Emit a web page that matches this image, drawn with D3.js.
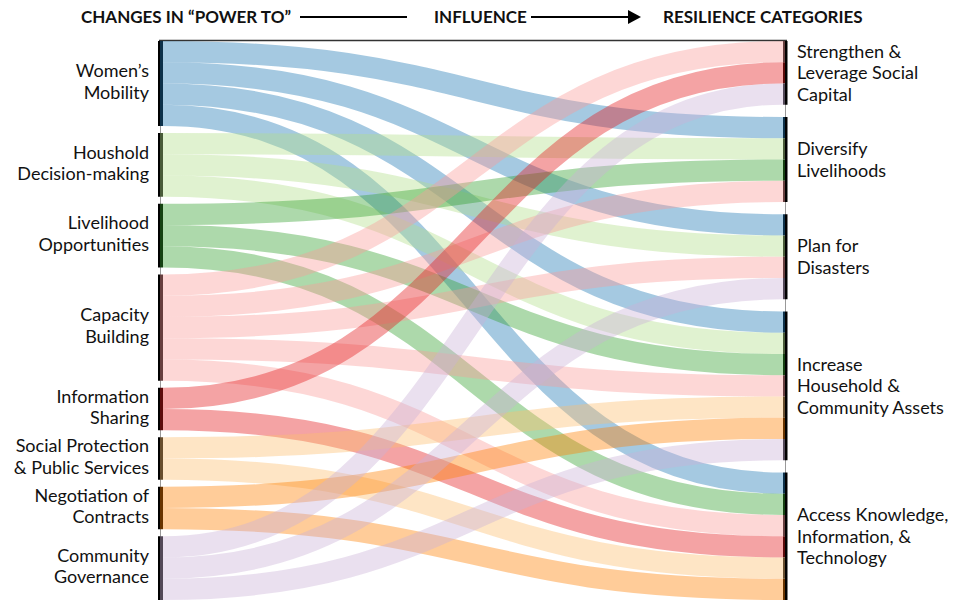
<!DOCTYPE html>
<meta charset="utf-8">
<title>Power to resilience</title>
<style>
  body { margin: 0; background: #fff; }
  text { font-family: Lato, "Open Sans", sans-serif; fill: #111; }
  .head { font-weight: bold; font-size: 17px; }
  .lbl { font-size: 18px; }
  .link { fill: none; stroke-opacity: 0.4; }
</style>
<body>
<script src="https://cdn.jsdelivr.net/npm/d3@7"></script>
<script>

// left column: changes in "power to"
var sources = [
  ['Women’s', 'Mobility'],
  ['Houshold', 'Decision-making'],
  ['Livelihood', 'Opportunities'],
  ['Capacity', 'Building'],
  ['Information', 'Sharing'],
  ['Social Protection', '& Public Services'],
  ['Negotiation of', 'Contracts'],
  ['Community', 'Governance']
];

// right column: resilience categories
var targets = [
  ['Strengthen &', 'Leverage Social', 'Capital'],
  ['Diversify', 'Livelihoods'],
  ['Plan for', 'Disasters'],
  ['Increase', 'Household &', 'Community Assets'],
  ['Access Knowledge,', 'Information, &', 'Technology']
];

// [source, target, value]
var links = [
  [0, 1, 1], [0, 2, 1], [0, 3, 1], [0, 4, 1],
  [1, 1, 1], [1, 2, 1], [1, 3, 1],
  [2, 1, 1], [2, 3, 1], [2, 4, 1],
  [3, 0, 1], [3, 1, 1], [3, 2, 1], [3, 3, 1], [3, 4, 1],
  [4, 0, 1], [4, 4, 1],
  [5, 3, 1], [5, 4, 1],
  [6, 3, 1], [6, 4, 1],
  [7, 0, 1], [7, 2, 1], [7, 3, 1]
];

var headers = ['CHANGES IN “POWER TO”', 'INFLUENCE', 'RESILIENCE CATEGORIES'];

var width = 957, height = 600;
var yTop = 41, yBottom = 600, pad = 7;
var x0 = 160, x1 = 785;

var color = d3.scaleOrdinal().domain(d3.range(sources.length)).range(d3.schemePaired.slice(1));

var svg = d3.select('body').append('svg').attr('width', width).attr('height', height);

// node sizes
var srcVal = sources.map(function(d, i) { return d3.sum(links.filter(function(l) { return l[0] == i; }), function(l) { return l[2]; }); });
var tgtVal = targets.map(function(d, i) { return d3.sum(links.filter(function(l) { return l[1] == i; }), function(l) { return l[2]; }); });
var H = yBottom - yTop;
var ky = Math.min((H - (sources.length - 1) * pad) / d3.sum(srcVal), (H - (targets.length - 1) * pad) / d3.sum(tgtVal));
var hScale = d3.scaleLinear().domain([0, 1]).range([0, ky]);

function stack(vals) {
  var gap = (H - hScale(d3.sum(vals))) / (vals.length - 1), y = yTop;
  return vals.map(function(v) {
    var n = {y0: y, y1: y + hScale(v)};
    y = n.y1 + gap;
    return n;
  });
}
var sNodes = stack(srcVal), tNodes = stack(tgtVal);

// link positions, sorted like a sankey
var L = links.map(function(l) { return {s: l[0], t: l[1], v: l[2]}; });
sNodes.forEach(function(n, i) {
  var y = n.y0;
  L.filter(function(l) { return l.s == i; }).sort(function(a, b) { return a.t - b.t; })
    .forEach(function(l) { l.sy = y + hScale(l.v) / 2; y += hScale(l.v); });
});
tNodes.forEach(function(n, i) {
  var y = n.y0;
  L.filter(function(l) { return l.t == i; }).sort(function(a, b) { return a.s - b.s; })
    .forEach(function(l) { l.ty = y + hScale(l.v) / 2; y += hScale(l.v); });
});

var lx0 = x0 + 3, lx1 = x1 - 2;
var linkGen = d3.linkHorizontal()
  .source(function(d) { return [lx0, d.sy]; })
  .target(function(d) { return [lx1, d.ty]; });

// frame lines
svg.append('line').attr('x1', x0 - 1).attr('x2', x1 + 2).attr('y1', yTop - 0.5).attr('y2', yTop - 0.5)
  .attr('stroke', '#333').attr('stroke-width', 1.5);
svg.append('line').attr('x1', x0 + 0.5).attr('x2', x0 + 0.5).attr('y1', yTop).attr('y2', yBottom)
  .attr('stroke', '#999').attr('stroke-width', 1);
svg.append('line').attr('x1', x1 + 0.5).attr('x2', x1 + 0.5).attr('y1', yTop).attr('y2', yBottom)
  .attr('stroke', '#999').attr('stroke-width', 1);

svg.append('g').selectAll('path').data(L)
  .enter().append('path')
  .attr('class', 'link')
  .attr('d', linkGen)
  .attr('stroke', function(d) { return color(d.s); })
  .attr('stroke-width', function(d) { return hScale(d.v); });

// left node bars
var sg = svg.append('g').selectAll('g').data(sNodes).enter().append('g');
sg.append('rect').attr('x', x0 - 2).attr('width', 2)
  .attr('y', function(d) { return d.y0; }).attr('height', function(d) { return d.y1 - d.y0; })
  .attr('fill', '#000');
sg.append('rect').attr('x', x0).attr('width', 3)
  .attr('y', function(d) { return d.y0; }).attr('height', function(d) { return d.y1 - d.y0; })
  .attr('fill', function(d, i) { return d3.color(color(i)).darker(2.5); });

// right node bars, tinted per incoming link
svg.append('g').selectAll('rect').data(L).enter().append('rect')
  .attr('x', x1 - 2).attr('width', 2)
  .attr('y', function(d) { return d.ty - hScale(d.v) / 2; }).attr('height', function(d) { return hScale(d.v); })
  .attr('fill', function(d) { return d3.color(color(d.s)).darker(2.5); });
svg.append('g').selectAll('rect').data(tNodes).enter().append('rect')
  .attr('x', x1).attr('width', 2.5)
  .attr('y', function(d) { return d.y0; }).attr('height', function(d) { return d.y1 - d.y0; })
  .attr('fill', '#000');

// labels
var lh = 21.7;
function label(nodes, names, x, anchor, shift) {
  svg.append('g').selectAll('text').data(nodes).enter().append('text')
    .attr('class', 'lbl')
    .attr('text-anchor', anchor)
    .attr('y', function(d) { return (d.y0 + d.y1) / 2 + shift; })
    .each(function(d, i) {
      var lines = names[i];
      d3.select(this).selectAll('tspan').data(lines).enter().append('tspan')
        .attr('x', x)
        .attr('dy', function(t, j) { return j == 0 ? (-(lines.length - 1) / 2 * lh + 6) + 'px' : lh + 'px'; })
        .text(function(t) { return t; });
    });
}
label(sNodes, sources, 149, 'end', -1.5);
label(tNodes, targets, 797, 'start', 0.5);

// header row
var hy = 23;
svg.append('text').attr('class', 'head').attr('x', 81).attr('y', hy).text(headers[0]);
svg.append('text').attr('class', 'head').attr('x', 434).attr('y', hy).text(headers[1]);
svg.append('text').attr('class', 'head').attr('x', 663).attr('y', hy).text(headers[2]);
svg.append('line').attr('x1', 300).attr('x2', 407).attr('y1', 17).attr('y2', 17).attr('stroke', '#000').attr('stroke-width', 2);
svg.append('line').attr('x1', 531).attr('x2', 630).attr('y1', 17).attr('y2', 17).attr('stroke', '#000').attr('stroke-width', 2);
svg.append('path').attr('d', 'M628,10L641,17L628,24Z').attr('fill', '#000');

</script>
</body>
